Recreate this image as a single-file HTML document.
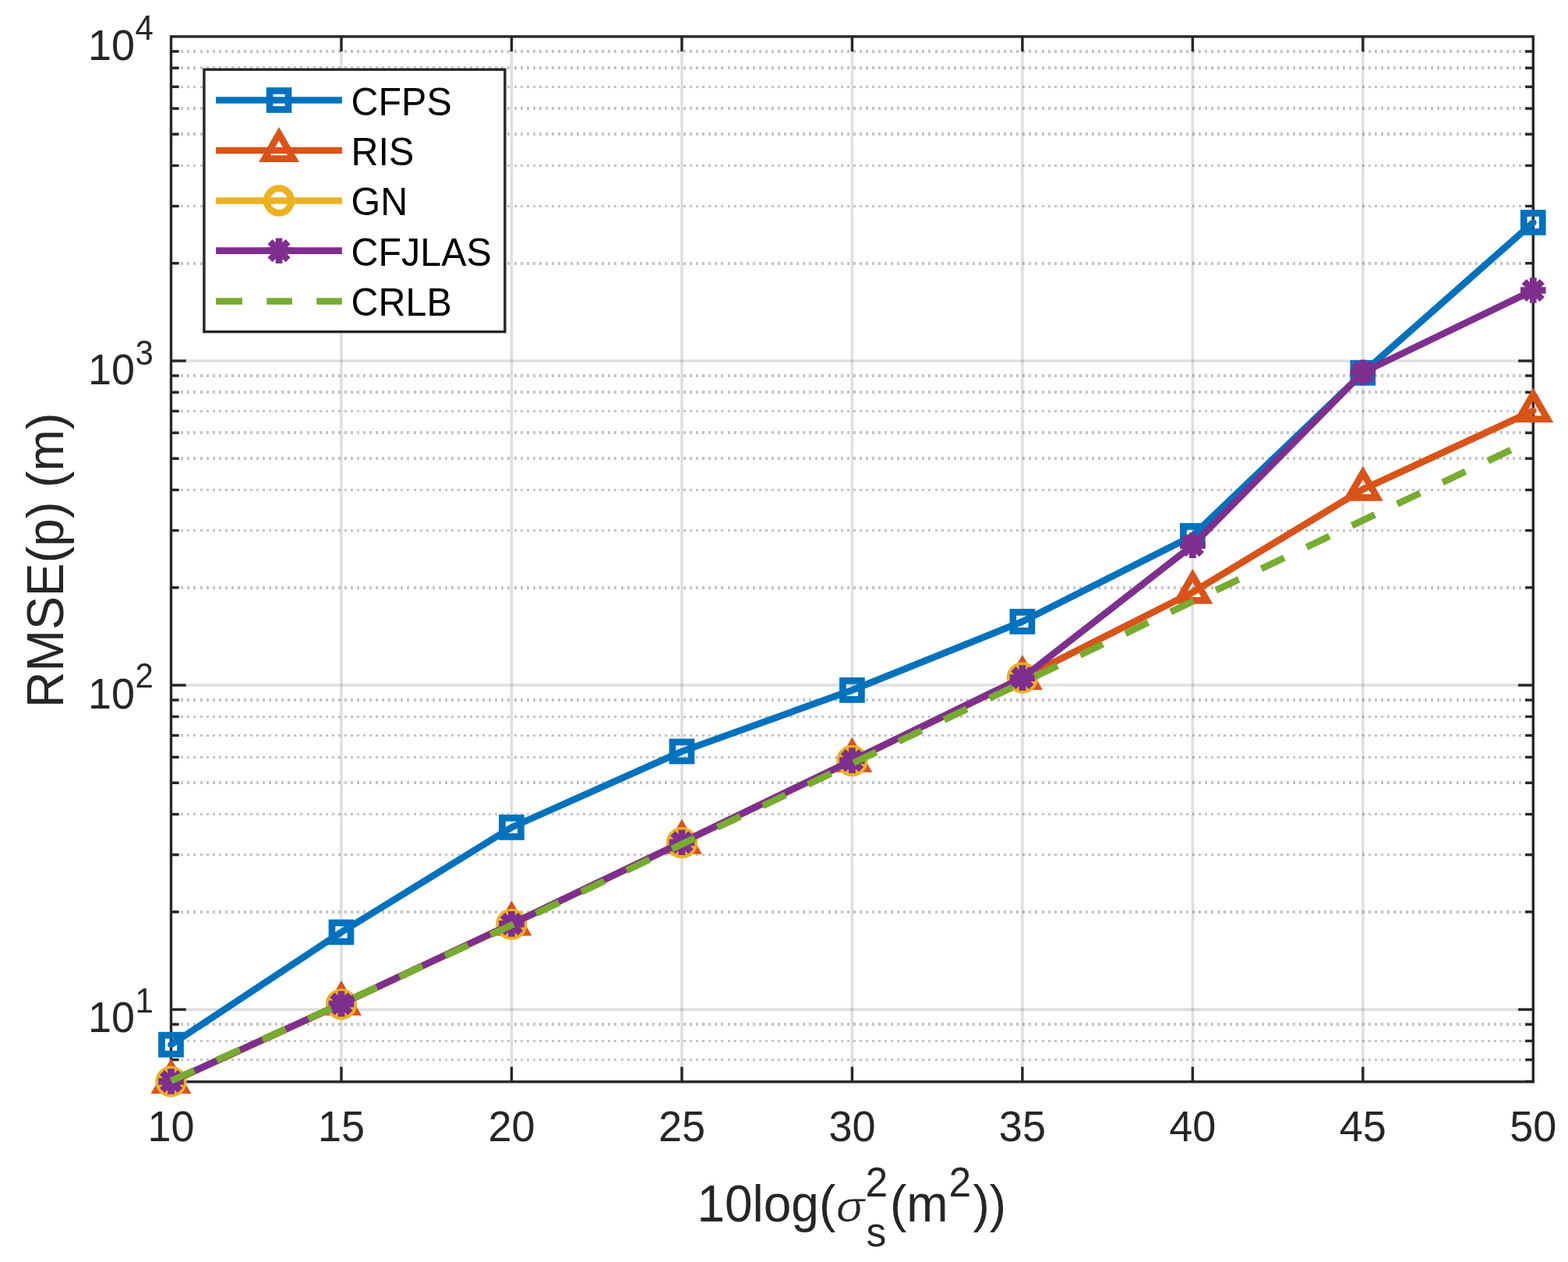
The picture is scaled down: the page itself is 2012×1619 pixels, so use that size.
<!DOCTYPE html><html><head><meta charset="utf-8"><style>html,body{margin:0;padding:0;background:#fff;overflow:hidden}svg{display:block}</style></head><body><svg width="2012" height="1619" viewBox="0 0 2012 1619">
<rect x="0" y="0" width="2012" height="1619" fill="#ffffff"/>
<g stroke="rgba(38,38,38,0.27)" stroke-width="3.6" stroke-dasharray="3 5.06" stroke-dashoffset="3.29" fill="none" shape-rendering="crispEdges"><line x1="219.50" y1="1387.41" x2="1967.30" y2="1387.41"/><line x1="219.50" y1="1359.56" x2="1967.30" y2="1359.56"/><line x1="219.50" y1="1335.43" x2="1967.30" y2="1335.43"/><line x1="219.50" y1="1314.15" x2="1967.30" y2="1314.15"/><line x1="219.50" y1="1169.86" x2="1967.30" y2="1169.86"/><line x1="219.50" y1="1096.59" x2="1967.30" y2="1096.59"/><line x1="219.50" y1="1044.61" x2="1967.30" y2="1044.61"/><line x1="219.50" y1="1004.29" x2="1967.30" y2="1004.29"/><line x1="219.50" y1="971.34" x2="1967.30" y2="971.34"/><line x1="219.50" y1="943.49" x2="1967.30" y2="943.49"/><line x1="219.50" y1="919.36" x2="1967.30" y2="919.36"/><line x1="219.50" y1="898.08" x2="1967.30" y2="898.08"/><line x1="219.50" y1="753.79" x2="1967.30" y2="753.79"/><line x1="219.50" y1="680.52" x2="1967.30" y2="680.52"/><line x1="219.50" y1="628.54" x2="1967.30" y2="628.54"/><line x1="219.50" y1="588.22" x2="1967.30" y2="588.22"/><line x1="219.50" y1="555.27" x2="1967.30" y2="555.27"/><line x1="219.50" y1="527.42" x2="1967.30" y2="527.42"/><line x1="219.50" y1="503.29" x2="1967.30" y2="503.29"/><line x1="219.50" y1="482.01" x2="1967.30" y2="482.01"/><line x1="219.50" y1="337.72" x2="1967.30" y2="337.72"/><line x1="219.50" y1="264.45" x2="1967.30" y2="264.45"/><line x1="219.50" y1="212.47" x2="1967.30" y2="212.47"/><line x1="219.50" y1="172.15" x2="1967.30" y2="172.15"/><line x1="219.50" y1="139.20" x2="1967.30" y2="139.20"/><line x1="219.50" y1="111.35" x2="1967.30" y2="111.35"/><line x1="219.50" y1="87.22" x2="1967.30" y2="87.22"/><line x1="219.50" y1="65.94" x2="1967.30" y2="65.94"/></g>
<g stroke="rgba(38,38,38,0.15)" stroke-width="3.6" fill="none"><line x1="219.50" y1="1295.11" x2="1967.30" y2="1295.11"/><line x1="219.50" y1="879.04" x2="1967.30" y2="879.04"/><line x1="219.50" y1="462.97" x2="1967.30" y2="462.97"/><line x1="437.98" y1="46.90" x2="437.98" y2="1387.80"/><line x1="656.45" y1="46.90" x2="656.45" y2="1387.80"/><line x1="874.92" y1="46.90" x2="874.92" y2="1387.80"/><line x1="1093.40" y1="46.90" x2="1093.40" y2="1387.80"/><line x1="1311.88" y1="46.90" x2="1311.88" y2="1387.80"/><line x1="1530.35" y1="46.90" x2="1530.35" y2="1387.80"/><line x1="1748.83" y1="46.90" x2="1748.83" y2="1387.80"/></g>
<g stroke="#262626" stroke-width="3.4" fill="none" stroke-linecap="butt"><rect x="219.50" y="46.90" width="1747.80" height="1340.90"/><line x1="437.98" y1="1387.80" x2="437.98" y2="1368.60"/><line x1="437.98" y1="46.90" x2="437.98" y2="66.10"/><line x1="656.45" y1="1387.80" x2="656.45" y2="1368.60"/><line x1="656.45" y1="46.90" x2="656.45" y2="66.10"/><line x1="874.92" y1="1387.80" x2="874.92" y2="1368.60"/><line x1="874.92" y1="46.90" x2="874.92" y2="66.10"/><line x1="1093.40" y1="1387.80" x2="1093.40" y2="1368.60"/><line x1="1093.40" y1="46.90" x2="1093.40" y2="66.10"/><line x1="1311.88" y1="1387.80" x2="1311.88" y2="1368.60"/><line x1="1311.88" y1="46.90" x2="1311.88" y2="66.10"/><line x1="1530.35" y1="1387.80" x2="1530.35" y2="1368.60"/><line x1="1530.35" y1="46.90" x2="1530.35" y2="66.10"/><line x1="1748.83" y1="1387.80" x2="1748.83" y2="1368.60"/><line x1="1748.83" y1="46.90" x2="1748.83" y2="66.10"/><line x1="219.50" y1="1295.11" x2="238.70" y2="1295.11"/><line x1="1967.30" y1="1295.11" x2="1948.10" y2="1295.11"/><line x1="219.50" y1="879.04" x2="238.70" y2="879.04"/><line x1="1967.30" y1="879.04" x2="1948.10" y2="879.04"/><line x1="219.50" y1="462.97" x2="238.70" y2="462.97"/><line x1="1967.30" y1="462.97" x2="1948.10" y2="462.97"/><line x1="219.50" y1="1387.41" x2="229.70" y2="1387.41"/><line x1="1967.30" y1="1387.41" x2="1957.10" y2="1387.41"/><line x1="219.50" y1="1359.56" x2="229.70" y2="1359.56"/><line x1="1967.30" y1="1359.56" x2="1957.10" y2="1359.56"/><line x1="219.50" y1="1335.43" x2="229.70" y2="1335.43"/><line x1="1967.30" y1="1335.43" x2="1957.10" y2="1335.43"/><line x1="219.50" y1="1314.15" x2="229.70" y2="1314.15"/><line x1="1967.30" y1="1314.15" x2="1957.10" y2="1314.15"/><line x1="219.50" y1="1169.86" x2="229.70" y2="1169.86"/><line x1="1967.30" y1="1169.86" x2="1957.10" y2="1169.86"/><line x1="219.50" y1="1096.59" x2="229.70" y2="1096.59"/><line x1="1967.30" y1="1096.59" x2="1957.10" y2="1096.59"/><line x1="219.50" y1="1044.61" x2="229.70" y2="1044.61"/><line x1="1967.30" y1="1044.61" x2="1957.10" y2="1044.61"/><line x1="219.50" y1="1004.29" x2="229.70" y2="1004.29"/><line x1="1967.30" y1="1004.29" x2="1957.10" y2="1004.29"/><line x1="219.50" y1="971.34" x2="229.70" y2="971.34"/><line x1="1967.30" y1="971.34" x2="1957.10" y2="971.34"/><line x1="219.50" y1="943.49" x2="229.70" y2="943.49"/><line x1="1967.30" y1="943.49" x2="1957.10" y2="943.49"/><line x1="219.50" y1="919.36" x2="229.70" y2="919.36"/><line x1="1967.30" y1="919.36" x2="1957.10" y2="919.36"/><line x1="219.50" y1="898.08" x2="229.70" y2="898.08"/><line x1="1967.30" y1="898.08" x2="1957.10" y2="898.08"/><line x1="219.50" y1="753.79" x2="229.70" y2="753.79"/><line x1="1967.30" y1="753.79" x2="1957.10" y2="753.79"/><line x1="219.50" y1="680.52" x2="229.70" y2="680.52"/><line x1="1967.30" y1="680.52" x2="1957.10" y2="680.52"/><line x1="219.50" y1="628.54" x2="229.70" y2="628.54"/><line x1="1967.30" y1="628.54" x2="1957.10" y2="628.54"/><line x1="219.50" y1="588.22" x2="229.70" y2="588.22"/><line x1="1967.30" y1="588.22" x2="1957.10" y2="588.22"/><line x1="219.50" y1="555.27" x2="229.70" y2="555.27"/><line x1="1967.30" y1="555.27" x2="1957.10" y2="555.27"/><line x1="219.50" y1="527.42" x2="229.70" y2="527.42"/><line x1="1967.30" y1="527.42" x2="1957.10" y2="527.42"/><line x1="219.50" y1="503.29" x2="229.70" y2="503.29"/><line x1="1967.30" y1="503.29" x2="1957.10" y2="503.29"/><line x1="219.50" y1="482.01" x2="229.70" y2="482.01"/><line x1="1967.30" y1="482.01" x2="1957.10" y2="482.01"/><line x1="219.50" y1="337.72" x2="229.70" y2="337.72"/><line x1="1967.30" y1="337.72" x2="1957.10" y2="337.72"/><line x1="219.50" y1="264.45" x2="229.70" y2="264.45"/><line x1="1967.30" y1="264.45" x2="1957.10" y2="264.45"/><line x1="219.50" y1="212.47" x2="229.70" y2="212.47"/><line x1="1967.30" y1="212.47" x2="1957.10" y2="212.47"/><line x1="219.50" y1="172.15" x2="229.70" y2="172.15"/><line x1="1967.30" y1="172.15" x2="1957.10" y2="172.15"/><line x1="219.50" y1="139.20" x2="229.70" y2="139.20"/><line x1="1967.30" y1="139.20" x2="1957.10" y2="139.20"/><line x1="219.50" y1="111.35" x2="229.70" y2="111.35"/><line x1="1967.30" y1="111.35" x2="1957.10" y2="111.35"/><line x1="219.50" y1="87.22" x2="229.70" y2="87.22"/><line x1="1967.30" y1="87.22" x2="1957.10" y2="87.22"/><line x1="219.50" y1="65.94" x2="229.70" y2="65.94"/><line x1="1967.30" y1="65.94" x2="1957.10" y2="65.94"/></g>
<polyline points="219.50,1340.20 437.98,1195.90 656.45,1061.40 874.92,964.00 1093.40,885.40 1311.88,797.40 1530.35,687.40 1748.83,478.40 1967.30,285.50" fill="none" stroke="#0072BD" stroke-width="8.7" stroke-linecap="round" stroke-linejoin="round"/>
<rect x="207.50" y="1328.20" width="24.00" height="24.00" fill="none" stroke="#0072BD" stroke-width="8.7" stroke-linejoin="miter"/>
<rect x="425.98" y="1183.90" width="24.00" height="24.00" fill="none" stroke="#0072BD" stroke-width="8.7" stroke-linejoin="miter"/>
<rect x="644.45" y="1049.40" width="24.00" height="24.00" fill="none" stroke="#0072BD" stroke-width="8.7" stroke-linejoin="miter"/>
<rect x="862.92" y="952.00" width="24.00" height="24.00" fill="none" stroke="#0072BD" stroke-width="8.7" stroke-linejoin="miter"/>
<rect x="1081.40" y="873.40" width="24.00" height="24.00" fill="none" stroke="#0072BD" stroke-width="8.7" stroke-linejoin="miter"/>
<rect x="1299.88" y="785.40" width="24.00" height="24.00" fill="none" stroke="#0072BD" stroke-width="8.7" stroke-linejoin="miter"/>
<rect x="1518.35" y="675.40" width="24.00" height="24.00" fill="none" stroke="#0072BD" stroke-width="8.7" stroke-linejoin="miter"/>
<rect x="1736.83" y="466.40" width="24.00" height="24.00" fill="none" stroke="#0072BD" stroke-width="8.7" stroke-linejoin="miter"/>
<rect x="1955.30" y="273.50" width="24.00" height="24.00" fill="none" stroke="#0072BD" stroke-width="8.7" stroke-linejoin="miter"/>
<polyline points="219.50,1388.00 437.98,1287.80 656.45,1185.40 874.92,1080.80 1093.40,975.80 1311.88,870.00 1530.35,759.80 1748.83,627.80 1967.30,527.00" fill="none" stroke="#D95319" stroke-width="8.7" stroke-linecap="round" stroke-linejoin="round"/>
<polygon points="219.50,1366.70 237.95,1398.65 201.05,1398.65" fill="none" stroke="#D95319" stroke-width="8.7" stroke-linejoin="miter" stroke-miterlimit="10"/>
<polygon points="437.98,1266.50 456.42,1298.45 419.53,1298.45" fill="none" stroke="#D95319" stroke-width="8.7" stroke-linejoin="miter" stroke-miterlimit="10"/>
<polygon points="656.45,1164.10 674.90,1196.05 638.00,1196.05" fill="none" stroke="#D95319" stroke-width="8.7" stroke-linejoin="miter" stroke-miterlimit="10"/>
<polygon points="874.92,1059.50 893.37,1091.45 856.48,1091.45" fill="none" stroke="#D95319" stroke-width="8.7" stroke-linejoin="miter" stroke-miterlimit="10"/>
<polygon points="1093.40,954.50 1111.85,986.45 1074.95,986.45" fill="none" stroke="#D95319" stroke-width="8.7" stroke-linejoin="miter" stroke-miterlimit="10"/>
<polygon points="1311.88,848.70 1330.32,880.65 1293.43,880.65" fill="none" stroke="#D95319" stroke-width="8.7" stroke-linejoin="miter" stroke-miterlimit="10"/>
<polygon points="1530.35,738.50 1548.80,770.45 1511.90,770.45" fill="none" stroke="#D95319" stroke-width="8.7" stroke-linejoin="miter" stroke-miterlimit="10"/>
<polygon points="1748.83,606.50 1767.27,638.45 1730.38,638.45" fill="none" stroke="#D95319" stroke-width="8.7" stroke-linejoin="miter" stroke-miterlimit="10"/>
<polygon points="1967.30,505.70 1985.75,537.65 1948.85,537.65" fill="none" stroke="#D95319" stroke-width="8.7" stroke-linejoin="miter" stroke-miterlimit="10"/>
<polyline points="219.50,1387.60 437.98,1288.30 656.45,1185.80 874.92,1081.20 1093.40,976.00 1311.88,869.60" fill="none" stroke="#EDB120" stroke-width="8.7" stroke-linecap="round" stroke-linejoin="round"/>
<circle cx="219.50" cy="1387.60" r="15.8" fill="none" stroke="#EDB120" stroke-width="8.7"/>
<circle cx="437.98" cy="1288.30" r="15.8" fill="none" stroke="#EDB120" stroke-width="8.7"/>
<circle cx="656.45" cy="1185.80" r="15.8" fill="none" stroke="#EDB120" stroke-width="8.7"/>
<circle cx="874.92" cy="1081.20" r="15.8" fill="none" stroke="#EDB120" stroke-width="8.7"/>
<circle cx="1093.40" cy="976.00" r="15.8" fill="none" stroke="#EDB120" stroke-width="8.7"/>
<circle cx="1311.88" cy="869.60" r="15.8" fill="none" stroke="#EDB120" stroke-width="8.7"/>
<polyline points="219.50,1387.40 437.98,1287.90 656.45,1185.40 874.92,1080.80 1093.40,975.60 1311.88,869.60 1530.35,699.60 1748.83,477.80 1967.30,372.50" fill="none" stroke="#7E2F8E" stroke-width="8.7" stroke-linecap="round" stroke-linejoin="round"/>
<path d="M203.20,1387.40H235.80M219.50,1371.10V1403.70M207.97,1375.87L231.03,1398.93M207.97,1398.93L231.03,1375.87" fill="none" stroke="#7E2F8E" stroke-width="8.7" stroke-linecap="butt"/>
<path d="M421.68,1287.90H454.28M437.98,1271.60V1304.20M426.45,1276.37L449.50,1299.43M426.45,1299.43L449.50,1276.37" fill="none" stroke="#7E2F8E" stroke-width="8.7" stroke-linecap="butt"/>
<path d="M640.15,1185.40H672.75M656.45,1169.10V1201.70M644.92,1173.87L667.98,1196.93M644.92,1196.93L667.98,1173.87" fill="none" stroke="#7E2F8E" stroke-width="8.7" stroke-linecap="butt"/>
<path d="M858.62,1080.80H891.22M874.92,1064.50V1097.10M863.40,1069.27L886.45,1092.33M863.40,1092.33L886.45,1069.27" fill="none" stroke="#7E2F8E" stroke-width="8.7" stroke-linecap="butt"/>
<path d="M1077.10,975.60H1109.70M1093.40,959.30V991.90M1081.87,964.07L1104.93,987.13M1081.87,987.13L1104.93,964.07" fill="none" stroke="#7E2F8E" stroke-width="8.7" stroke-linecap="butt"/>
<path d="M1295.58,869.60H1328.17M1311.88,853.30V885.90M1300.35,858.07L1323.40,881.13M1300.35,881.13L1323.40,858.07" fill="none" stroke="#7E2F8E" stroke-width="8.7" stroke-linecap="butt"/>
<path d="M1514.05,699.60H1546.65M1530.35,683.30V715.90M1518.82,688.07L1541.88,711.13M1518.82,711.13L1541.88,688.07" fill="none" stroke="#7E2F8E" stroke-width="8.7" stroke-linecap="butt"/>
<path d="M1732.53,477.80H1765.12M1748.83,461.50V494.10M1737.30,466.27L1760.35,489.33M1737.30,489.33L1760.35,466.27" fill="none" stroke="#7E2F8E" stroke-width="8.7" stroke-linecap="butt"/>
<path d="M1951.00,372.50H1983.60M1967.30,356.20V388.80M1955.77,360.97L1978.83,384.03M1955.77,384.03L1978.83,360.97" fill="none" stroke="#7E2F8E" stroke-width="8.7" stroke-linecap="butt"/>
<polyline points="219.50,1386.60 437.98,1287.60 656.45,1186.80 874.92,1083.00 1093.40,979.50 1311.88,875.80 1530.35,771.50 1748.83,667.50 1967.30,563.60" fill="none" stroke="#77AC30" stroke-width="8.7" stroke-dasharray="32.5 31.9" stroke-linecap="butt" stroke-linejoin="round"/>
<g font-family="Liberation Sans, Arial, Helvetica, sans-serif"><text transform="translate(219.50,1463.90) scale(1,1.045)" font-size="54.0" fill="#262626" text-anchor="middle">10</text><text transform="translate(437.98,1463.90) scale(1,1.045)" font-size="54.0" fill="#262626" text-anchor="middle">15</text><text transform="translate(656.45,1463.90) scale(1,1.045)" font-size="54.0" fill="#262626" text-anchor="middle">20</text><text transform="translate(874.92,1463.90) scale(1,1.045)" font-size="54.0" fill="#262626" text-anchor="middle">25</text><text transform="translate(1093.40,1463.90) scale(1,1.045)" font-size="54.0" fill="#262626" text-anchor="middle">30</text><text transform="translate(1311.88,1463.90) scale(1,1.045)" font-size="54.0" fill="#262626" text-anchor="middle">35</text><text transform="translate(1530.35,1463.90) scale(1,1.045)" font-size="54.0" fill="#262626" text-anchor="middle">40</text><text transform="translate(1748.83,1463.90) scale(1,1.045)" font-size="54.0" fill="#262626" text-anchor="middle">45</text><text transform="translate(1967.30,1463.90) scale(1,1.045)" font-size="54.0" fill="#262626" text-anchor="middle">50</text><text transform="translate(113.05,1324.10) scale(1,1.045)" font-size="54.0" fill="#262626">10</text><text transform="translate(173.40,1299.35) scale(1,1.045)" font-size="42.0" fill="#262626">1</text><text transform="translate(113.05,908.80) scale(1,1.045)" font-size="54.0" fill="#262626">10</text><text transform="translate(173.40,882.35) scale(1,1.045)" font-size="42.0" fill="#262626">2</text><text transform="translate(113.05,493.04) scale(1,1.045)" font-size="54.0" fill="#262626">10</text><text transform="translate(173.40,468.20) scale(1,1.045)" font-size="42.0" fill="#262626">3</text><text transform="translate(113.05,76.60) scale(1,1.045)" font-size="54.0" fill="#262626">10</text><text transform="translate(173.40,51.35) scale(1,1.045)" font-size="42.0" fill="#262626">4</text></g>
<g font-family="Liberation Sans, Arial, Helvetica, sans-serif">
<text transform="translate(894.40,1566.70) scale(1,1.045)" font-size="64.0" fill="#262626">10log(</text>
<text transform="translate(1073.0,1566.6) scale(1.17,1.045)" font-size="51.5" fill="#262626" font-style="italic" stroke="#ffffff" stroke-width="0.5">&#963;</text>
<text transform="translate(1110.40,1534.80) scale(1,1.045)" font-size="51.5" fill="#262626">2</text>
<text transform="translate(1111.60,1598.50) scale(1,1.045)" font-size="51.5" fill="#262626">s</text>
<text transform="translate(1142.00,1566.70) scale(1,1.045)" font-size="64.0" fill="#262626">(m</text>
<text transform="translate(1217.60,1534.90) scale(1,1.045)" font-size="51.5" fill="#262626">2</text>
<text transform="translate(1248.50,1566.70) scale(1,1.045)" font-size="64.0" fill="#262626">))</text>
<text transform="translate(80.9,718.75) rotate(-90) scale(1,1.045)" font-size="64.3" fill="#262626" text-anchor="middle">RMSE(p) (m)</text>
</g>
<rect x="261.9" y="89.2" width="386.00" height="336.40" fill="#ffffff" stroke="#262626" stroke-width="3.4"/>
<line x1="277.1" y1="128.5" x2="438.9" y2="128.5" stroke="#0072BD" stroke-width="8.7"/>
<rect x="346.00" y="116.50" width="24.00" height="24.00" fill="none" stroke="#0072BD" stroke-width="8.7" stroke-linejoin="miter"/>
<g font-family="Liberation Sans, Arial, Helvetica, sans-serif"><text transform="translate(450.60,148.00) scale(1,1.045)" font-size="48.4" fill="#000000">CFPS</text></g>
<line x1="277.1" y1="193.0" x2="438.9" y2="193.0" stroke="#D95319" stroke-width="8.7"/>
<polygon points="358.00,171.70 376.45,203.65 339.55,203.65" fill="none" stroke="#D95319" stroke-width="8.7" stroke-linejoin="miter" stroke-miterlimit="10"/>
<g font-family="Liberation Sans, Arial, Helvetica, sans-serif"><text transform="translate(450.60,212.20) scale(1,1.045)" font-size="48.4" fill="#000000">RIS</text></g>
<line x1="277.1" y1="257.5" x2="438.9" y2="257.5" stroke="#EDB120" stroke-width="8.7"/>
<circle cx="358.00" cy="257.50" r="15.8" fill="none" stroke="#EDB120" stroke-width="8.7"/>
<g font-family="Liberation Sans, Arial, Helvetica, sans-serif"><text transform="translate(450.60,276.40) scale(1,1.045)" font-size="48.4" fill="#000000">GN</text></g>
<line x1="277.1" y1="321.7" x2="438.9" y2="321.7" stroke="#7E2F8E" stroke-width="8.7"/>
<path d="M341.70,321.70H374.30M358.00,305.40V338.00M346.47,310.17L369.53,333.23M346.47,333.23L369.53,310.17" fill="none" stroke="#7E2F8E" stroke-width="8.7" stroke-linecap="butt"/>
<g font-family="Liberation Sans, Arial, Helvetica, sans-serif"><text transform="translate(450.60,340.60) scale(1,1.045)" font-size="48.4" fill="#000000">CFJLAS</text></g>
<line x1="277.1" y1="386.5" x2="438.9" y2="386.5" stroke="#77AC30" stroke-width="8.7" stroke-dasharray="33.8 31.3 32.7 31.3 32.7"/>
<g font-family="Liberation Sans, Arial, Helvetica, sans-serif"><text transform="translate(450.60,404.80) scale(1,1.045)" font-size="48.4" fill="#000000">CRLB</text></g>
</svg></body></html>
